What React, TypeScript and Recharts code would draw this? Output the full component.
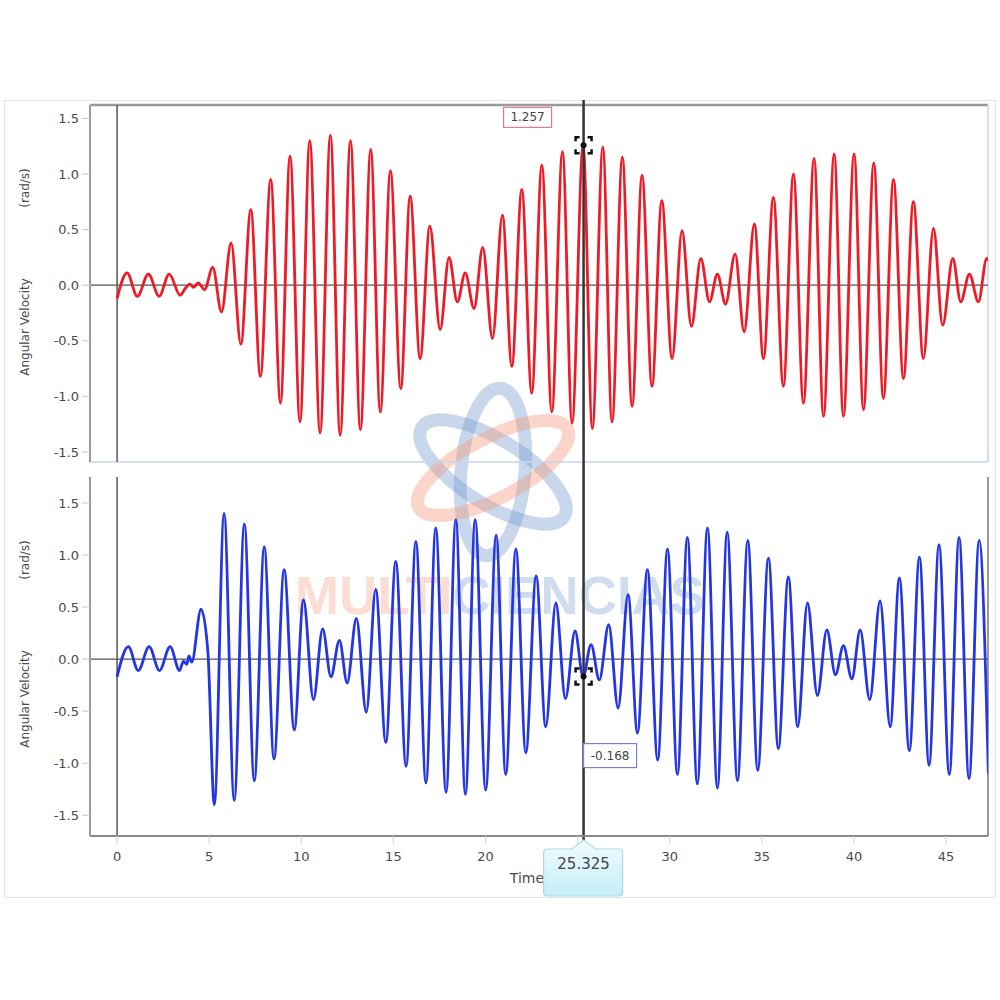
import React from 'react';
import { Line, LineChart, ReferenceDot, ReferenceLine, XAxis, YAxis } from 'recharts';

// time axis + value axis ticks
const timeTicks = [0, 5, 10, 15, 20, 25, 30, 35, 40, 45];
const velocityTicks = [-1.5, -1, -0.5, 0, 0.5, 1, 1.5];

// pendulum 1 (red), extrema
const topTime = [
  0, 0.54, 1.1, 1.7, 2.28, 2.83, 3.42, 3.7, 3.95, 4.15, 4.4, 4.75, 5.19, 5.67, 6.19, 6.72, 7.26, 7.78,
  8.34, 8.87, 9.39, 9.93, 10.46, 11.02, 11.58, 12.11, 12.67, 13.21, 13.77, 14.29, 14.84, 15.4, 15.91,
  16.45, 16.98, 17.54, 18.02, 18.47, 18.9, 19.38, 19.85, 20.38, 20.92, 21.43, 21.97, 22.51, 23.06, 23.6,
  24.18, 24.7, 25.3, 25.8, 26.37, 26.87, 27.43, 27.96, 28.5, 29.04, 29.57, 30.13, 30.67, 31.18, 31.69,
  32.16, 32.59, 33.03, 33.55, 34.04, 34.6, 35.09, 35.63, 36.17, 36.72, 37.26, 37.84, 38.35, 38.93,
  39.43, 40.01, 40.52, 41.08, 41.6, 42.15, 42.69, 43.23, 43.77, 44.32, 44.82, 45.37, 45.8, 46.27,
  46.76, 47.21, 47.3,
];
const topVelocity = [
  -0.12, 0.11, -0.1, 0.1, -0.1, 0.1, -0.09, -0.03, 0.01, -0.02, 0.02, -0.04, 0.16, -0.24, 0.38, -0.53,
  0.68, -0.82, 0.95, -1.06, 1.16, -1.23, 1.3, -1.33, 1.35, -1.35, 1.3, -1.3, 1.22, -1.14, 1.03, -0.93,
  0.8, -0.66, 0.53, -0.4, 0.25, -0.15, 0.11, -0.21, 0.34, -0.48, 0.63, -0.73, 0.86, -0.97, 1.08, -1.14,
  1.2, -1.24, 1.26, -1.29, 1.24, -1.23, 1.15, -1.09, 0.99, -0.91, 0.76, -0.66, 0.49, -0.37, 0.24,
  -0.15, 0.1, -0.17, 0.28, -0.42, 0.55, -0.66, 0.79, -0.91, 1.0, -1.06, 1.14, -1.18, 1.18, -1.18, 1.18,
  -1.12, 1.1, -1.02, 0.95, -0.84, 0.75, -0.66, 0.51, -0.36, 0.24, -0.15, 0.1, -0.15, 0.24, 0.22,
];

// pendulum 2 (blue)
const bottomTime = [
  0, 0.61, 1.15, 1.74, 2.3, 2.88, 3.39, 3.6, 3.78, 3.9, 4.05, 4.56, 4.93, 5.28, 5.81, 6.36, 6.91, 7.45,
  7.99, 8.52, 9.07, 9.62, 10.12, 10.66, 11.16, 11.61, 12.07, 12.49, 12.99, 13.53, 14.04, 14.59, 15.13,
  15.69, 16.22, 16.77, 17.3, 17.86, 18.39, 18.91, 19.44, 20.01, 20.58, 21.1, 21.65, 22.19, 22.75, 23.27,
  23.82, 24.34, 24.86, 25.3, 25.73, 26.18, 26.69, 27.2, 27.74, 28.25, 28.79, 29.35, 29.88, 30.42, 30.96,
  31.5, 32.05, 32.59, 33.12, 33.68, 34.24, 34.78, 35.36, 35.9, 36.44, 36.95, 37.48, 38.02, 38.53, 39.0,
  39.43, 39.89, 40.34, 40.86, 41.42, 41.97, 42.47, 43.01, 43.56, 44.08, 44.62, 45.18, 45.71, 46.25,
  46.8, 47.3,
];
const bottomVelocity = [
  -0.17, 0.12, -0.11, 0.12, -0.11, 0.12, -0.11, -0.02, -0.05, 0.03, -0.03, 0.48, 0.07, -1.4, 1.4, -1.36,
  1.3, -1.17, 1.08, -0.96, 0.86, -0.68, 0.57, -0.39, 0.29, -0.17, 0.18, -0.23, 0.39, -0.51, 0.67, -0.8,
  0.94, -1.03, 1.13, -1.19, 1.26, -1.28, 1.34, -1.3, 1.34, -1.26, 1.19, -1.11, 1.06, -0.9, 0.8, -0.65,
  0.54, -0.38, 0.27, -0.17, 0.14, -0.2, 0.33, -0.47, 0.62, -0.71, 0.86, -0.97, 1.06, -1.11, 1.17, -1.2,
  1.26, -1.24, 1.22, -1.17, 1.14, -1.07, 0.97, -0.86, 0.79, -0.65, 0.54, -0.35, 0.28, -0.15, 0.13,
  -0.19, 0.28, -0.39, 0.56, -0.65, 0.78, -0.88, 0.98, -1.02, 1.1, -1.11, 1.17, -1.15, 1.14, -1.1,
];

// cursor readout
const cursorTime = 25.325;
const cursorTop = 1.257;
const cursorBottom = -0.168;

const xDomain: [number, number] = [-1.47, 47.28];
const topDomain: [number, number] = [-1.59, 1.62];
const bottomDomain: [number, number] = [-1.7, 1.75];

const topData = topTime.map((t, i) => ({ t, v: topVelocity[i] }));
const bottomData = bottomTime.map((t, i) => ({ t, v: bottomVelocity[i] }));

const FONT = '"DejaVu Sans", Verdana, sans-serif';
const tickStyle = { fontSize: 13, fill: '#4a4a4a', fontFamily: FONT };

const AxisTitle = (props: any) => {
  const vb = props.viewBox || { x: 0, y: 0 };
  const cx = vb.x + 25;
  return (
    <g fontFamily={FONT} fontSize={12} fill="#4a4a4a">
      <text transform={`translate(${cx},${vb.y + 83}) rotate(-90)`} textAnchor="middle" dominantBaseline="central">
        (rad/s)
      </text>
      <text transform={`translate(${cx},${vb.y + 222}) rotate(-90)`} textAnchor="middle" dominantBaseline="central">
        Angular Velocity
      </text>
    </g>
  );
};

// crosshair brackets + value box
const CursorMarker = (props: any) => {
  const { cx, cy, text, boxX, boxY, boxW, boxH, boxStroke } = props;
  if (cx == null || cy == null) return null;
  const s = 8;
  const k = 4;
  const d = [
    `M${cx - s},${cy - k}V${cy - s}H${cx - k}`,
    `M${cx + k},${cy - s}H${cx + s}V${cy - k}`,
    `M${cx + s},${cy + k}V${cy + s}H${cx + k}`,
    `M${cx - k},${cy + s}H${cx - s}V${cy + k}`,
  ].join('');
  return (
    <g>
      <path d={d} fill="none" stroke="#111" strokeWidth={2.5} />
      <circle cx={cx} cy={cy} r={3} fill="#111" />
      <rect x={cx + boxX} y={cy + boxY} width={boxW} height={boxH} fill="#fff" stroke={boxStroke} strokeWidth={1.2} />
      <text
        x={cx + boxX + boxW / 2}
        y={cy + boxY + boxH / 2}
        textAnchor="middle"
        dominantBaseline="central"
        fontFamily={FONT}
        fontSize={12}
        fill="#444"
      >
        {text}
      </text>
    </g>
  );
};

const TimeCallout = (props: any) => {
  const { cx, cy } = props;
  if (cx == null || cy == null) return null;
  const l = cx - 40;
  const r = cx + 39;
  const t = cy + 13;
  const b = cy + 60;
  const d = `M${l + 4},${t}H${cx - 12}L${cx},${cy + 4}L${cx + 12},${t}H${r - 4}Q${r},${t} ${r},${t + 4}V${b - 4}Q${r},${b} ${r - 4},${b}H${l + 4}Q${l},${b} ${l},${b - 4}V${t + 4}Q${l},${t} ${l + 4},${t}Z`;
  return (
    <g>
      <defs>
        <linearGradient id="calloutFill" x1="0" y1="0" x2="0" y2="1">
          <stop offset="0%" stopColor="#f2fbfd" />
          <stop offset="100%" stopColor="#c4eef8" />
        </linearGradient>
      </defs>
      <path d={d} fill="url(#calloutFill)" stroke="#a9d9e6" strokeWidth={1.2} />
      <text x={cx} y={cy + 28} textAnchor="middle" dominantBaseline="central" fontFamily={FONT} fontSize={15} fill="#444">
        25.325
      </text>
    </g>
  );
};

const WM_BLUE = 'rgba(110,150,205,0.38)';
const WM_SALMON = 'rgba(245,150,120,0.4)';

const Watermark = () => (
  <svg width={1000} height={1000} style={{ position: 'absolute', left: 0, top: 0, pointerEvents: 'none' }}>
    <g fill="none" strokeWidth={13}>
      <ellipse cx={493} cy={472} rx={84} ry={32} transform="rotate(32 493 472)" stroke={WM_BLUE} />
      <ellipse cx={493} cy={472} rx={84} ry={32} transform="rotate(95 493 472)" stroke={WM_BLUE} />
      <ellipse cx={493} cy={468} rx={84} ry={30} transform="rotate(-28 493 468)" stroke={WM_SALMON} />
    </g>
    <text
      x={295}
      y={614}
      textLength={410}
      lengthAdjust="spacingAndGlyphs"
      fontFamily='"Liberation Sans", Arial, sans-serif'
      fontWeight="bold"
      fontSize={54}
    >
      <tspan fill="rgba(245,150,120,0.32)">MULTI</tspan>
      <tspan fill="rgba(110,150,205,0.32)">CIENCIAS</tspan>
    </text>
  </svg>
);

// tick "25" sits under the time callout in the source
const timeTickFormatter = (v: number) => (v === 25 ? '' : String(v));

export default function App() {
  return (
    <div style={{ position: 'absolute', left: 0, top: 0, width: 1000, height: 1000, background: '#fff' }}>
      <div
        style={{
          position: 'absolute',
          left: 4,
          top: 100,
          width: 990,
          height: 796,
          border: '1.5px solid #dfe5f0',
        }}
      />
      <Watermark />
      <div style={{ position: 'absolute', left: 0, top: 0 }}>
        <LineChart width={1000} height={470} data={topData} margin={{ top: 105, right: 12, bottom: 8, left: 0 }}>
          <XAxis dataKey="t" type="number" domain={xDomain} allowDataOverflow ticks={timeTicks} hide />
          <YAxis
            type="number"
            domain={topDomain}
            allowDataOverflow
            ticks={velocityTicks}
            width={90}
            tickFormatter={(v: number) => v.toFixed(1)}
            tick={tickStyle}
            tickSize={8}
            tickMargin={3}
            tickLine={{ stroke: '#c8c8c8' }}
            axisLine={{ stroke: '#9a9a9a', strokeWidth: 2 }}
            label={{ content: (p: any) => <AxisTitle {...p} /> }}
          />
          <ReferenceLine y={topDomain[1]} stroke="#9a9a9a" strokeWidth={2.5} ifOverflow="visible" />
          <ReferenceLine y={topDomain[0]} stroke="#c9d5ee" strokeWidth={1.5} ifOverflow="visible" />
          <ReferenceLine x={xDomain[1]} stroke="#c9d5ee" strokeWidth={1.5} ifOverflow="visible" />
          <ReferenceLine y={0} stroke="#555" strokeWidth={1.2} />
          <ReferenceLine x={0} stroke="#555" strokeWidth={1.5} />
          <Line
            type="monotone"
            dataKey="v"
            stroke="#ef1a26"
            strokeWidth={2.8}
            dot={false}
            isAnimationActive={false}
          />
          <ReferenceLine
            segment={[
              { x: cursorTime, y: topDomain[1] + 0.045 },
              { x: cursorTime, y: topDomain[0] - 0.075 },
            ]}
            stroke="#333"
            strokeWidth={2.5}
            ifOverflow="visible"
          />
          <ReferenceDot
            x={cursorTime}
            y={cursorTop}
            r={8}
            ifOverflow="visible"
            shape={(p: any) => (
              <CursorMarker {...p} text="1.257" boxX={-80} boxY={-38} boxW={48} boxH={20} boxStroke="#d77a9a" />
            )}
          />
        </LineChart>
      </div>
      <div style={{ position: 'absolute', left: 0, top: 470 }}>
        <LineChart width={1000} height={530} data={bottomData} margin={{ top: 7, right: 12, bottom: 104, left: 0 }}>
          <XAxis
            dataKey="t"
            type="number"
            domain={xDomain}
            allowDataOverflow
            ticks={timeTicks}
            height={60}
            tick={tickStyle}
            tickFormatter={timeTickFormatter}
            tickSize={8}
            tickMargin={8}
            tickLine={{ stroke: '#d0d0d0' }}
            axisLine={{ stroke: '#8a8a8a', strokeWidth: 2 }}
            label={{
              value: 'Time',
              position: 'insideTop',
              offset: 37,
              dx: -12,
              style: { fontSize: 14, fill: '#4a4a4a', fontFamily: FONT },
            }}
          />
          <YAxis
            type="number"
            domain={bottomDomain}
            allowDataOverflow
            ticks={velocityTicks}
            width={90}
            tickFormatter={(v: number) => v.toFixed(1)}
            tick={tickStyle}
            tickSize={8}
            tickMargin={3}
            tickLine={{ stroke: '#c8c8c8' }}
            axisLine={{ stroke: '#9a9a9a', strokeWidth: 2 }}
            label={{ content: (p: any) => <AxisTitle {...p} /> }}
          />
          <ReferenceLine x={xDomain[1]} stroke="#9a9a9a" strokeWidth={2} ifOverflow="visible" />
          <ReferenceLine y={0} stroke="#555" strokeWidth={1.2} />
          <ReferenceLine x={0} stroke="#555" strokeWidth={1.5} />
          <Line
            type="monotone"
            dataKey="v"
            stroke="#2435e4"
            strokeWidth={2.8}
            dot={false}
            isAnimationActive={false}
          />
          <ReferenceLine
            segment={[
              { x: cursorTime, y: bottomDomain[1] + 0.07 },
              { x: cursorTime, y: bottomDomain[0] - 0.04 },
            ]}
            stroke="#333"
            strokeWidth={2.5}
            ifOverflow="visible"
          />
          <ReferenceDot
            x={cursorTime}
            y={cursorBottom}
            r={8}
            ifOverflow="visible"
            shape={(p: any) => (
              <CursorMarker {...p} text="-0.168" boxX={0} boxY={67} boxW={53} boxH={24} boxStroke="#7f7fd6" />
            )}
          />
        </LineChart>
      </div>
      {/* overlay chart with the same scales so the time callout sits above the axis */}
      <div style={{ position: 'absolute', left: 0, top: 470, pointerEvents: 'none' }}>
        <LineChart width={1000} height={530} data={bottomData} margin={{ top: 7, right: 12, bottom: 164, left: 90 }}>
          <XAxis dataKey="t" type="number" domain={xDomain} allowDataOverflow hide />
          <YAxis type="number" domain={bottomDomain} allowDataOverflow hide />
          <Line dataKey="v" stroke="none" dot={false} isAnimationActive={false} />
          <ReferenceDot
            x={cursorTime}
            y={bottomDomain[0]}
            r={4}
            ifOverflow="visible"
            shape={(p: any) => <TimeCallout {...p} />}
          />
        </LineChart>
      </div>
    </div>
  );
}
